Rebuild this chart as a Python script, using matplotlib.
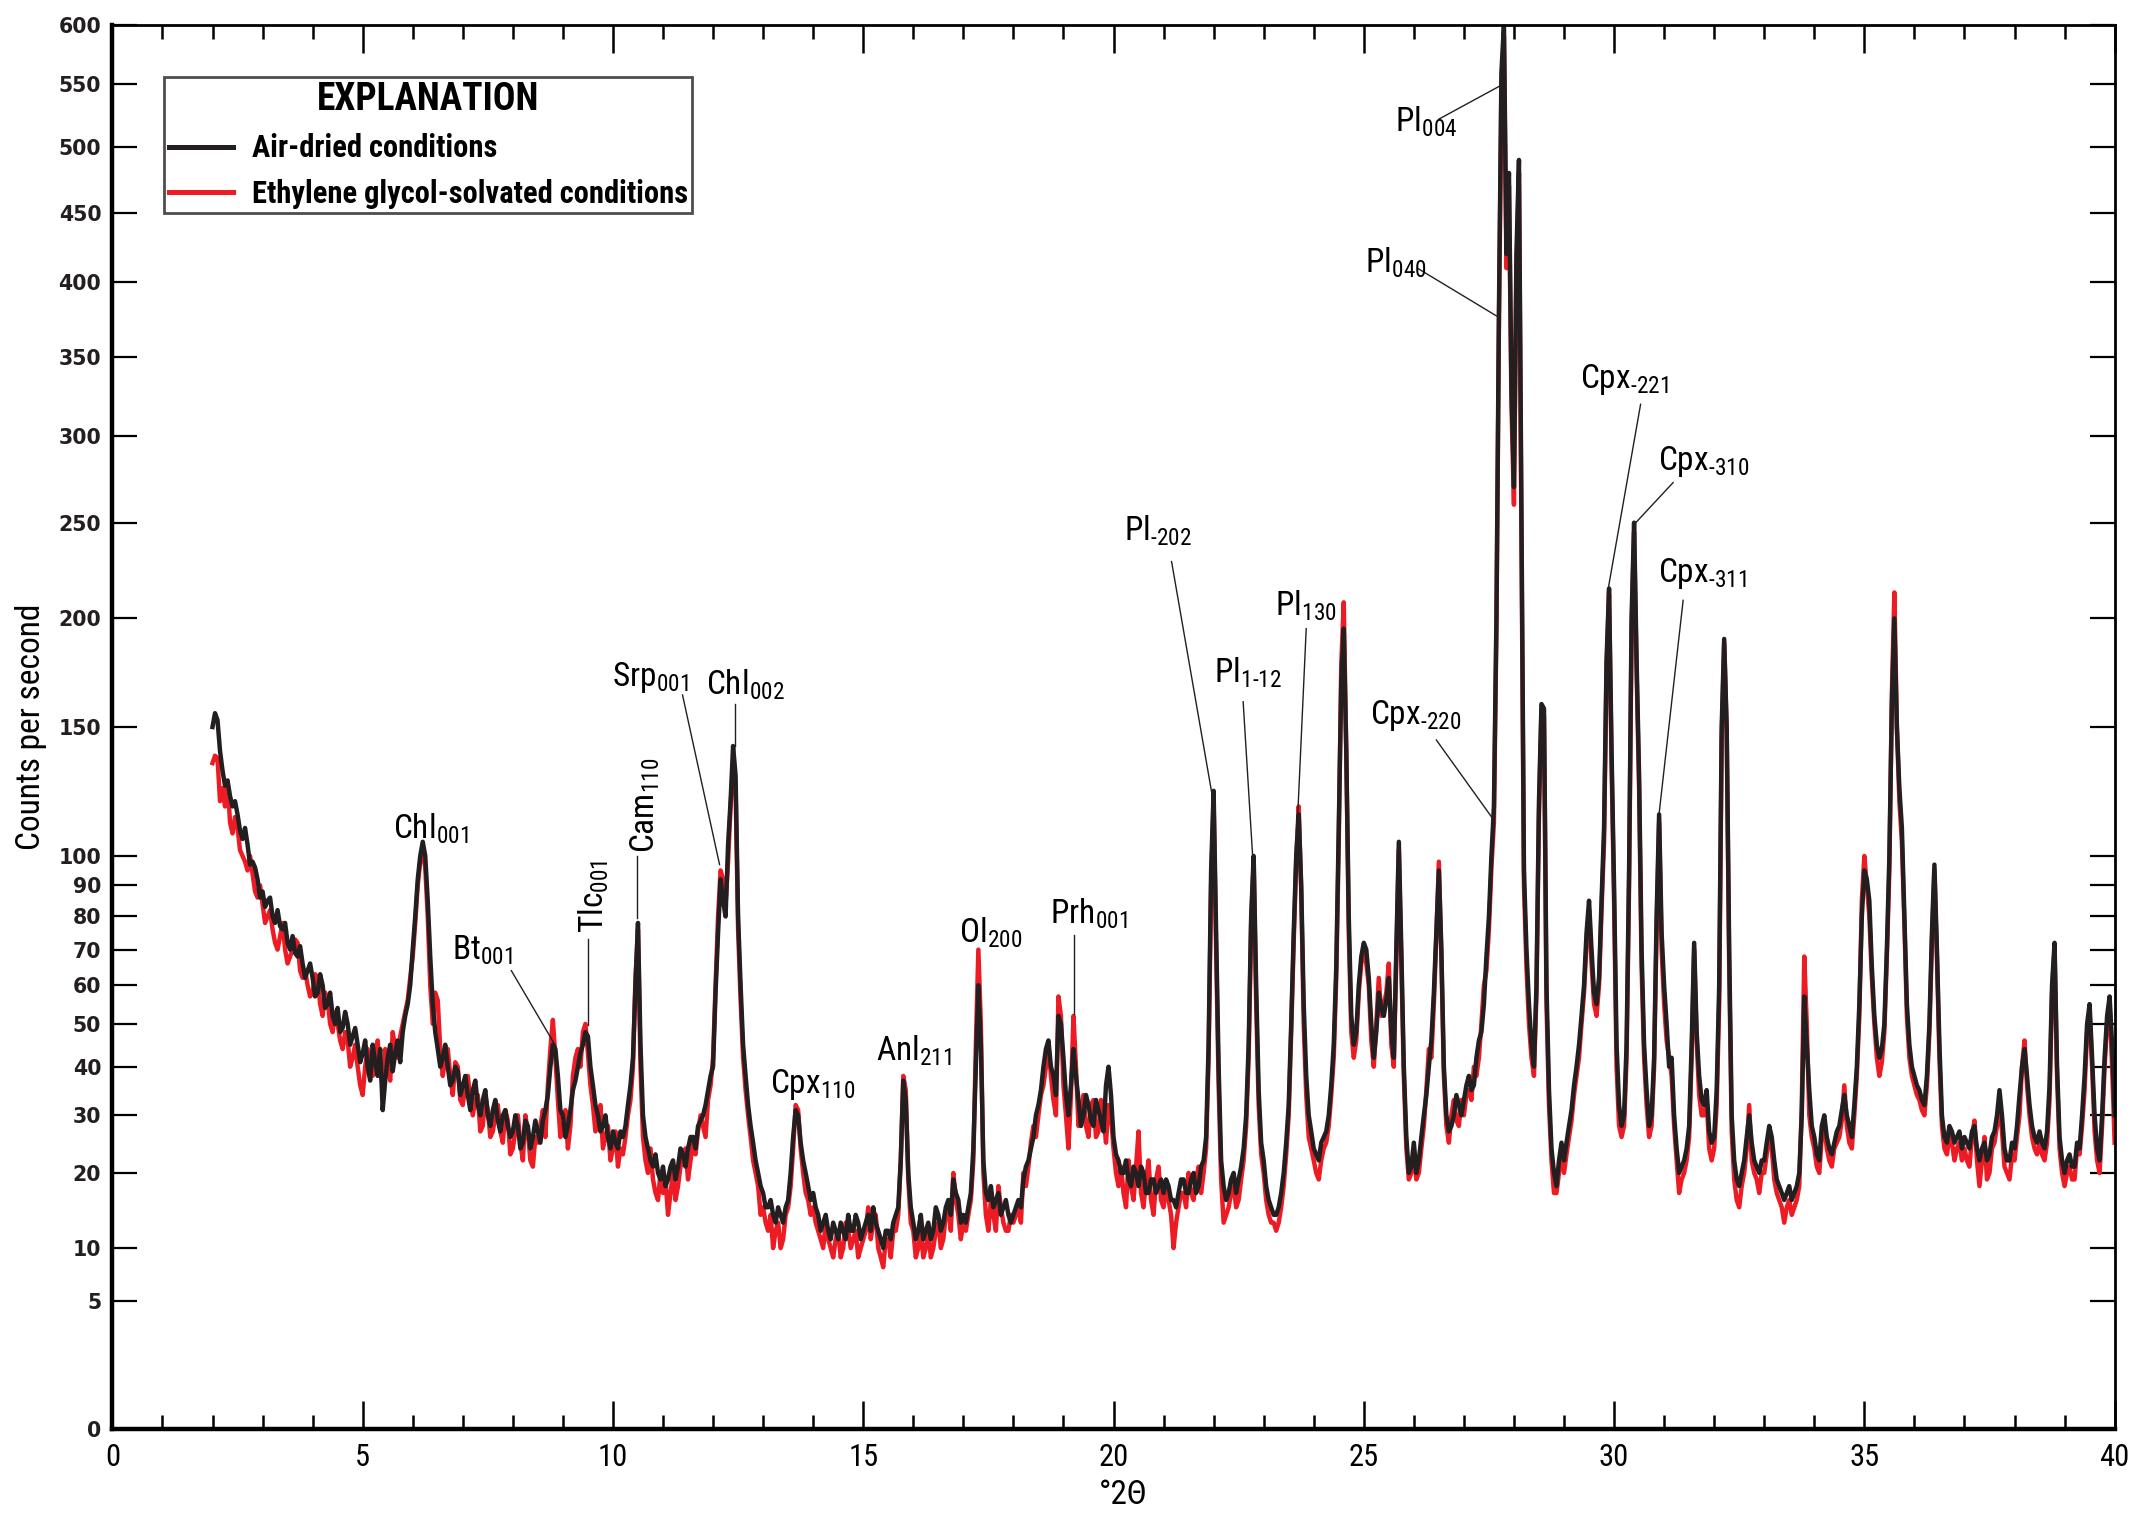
import matplotlib
matplotlib.use("Agg")
import matplotlib.pyplot as plt
from matplotlib import font_manager
import numpy as np

# degrees 2-theta: readings every 0.05 degree from 2.0 to 40.0
two_theta = np.round(np.arange(2.0, 40.0001, 0.05), 2)

# counts per second, air-dried (black), at 2.0, 2.1, ... 40.0
air_dried = [
    150, 153, 132, 128, 118, 115, 106, 104, 98, 92,
    88, 85, 80, 82, 76, 72, 74, 68, 66, 64,
    62, 58, 60, 55, 52, 54, 49, 50, 47, 45,
    43, 40, 45, 38, 31, 42, 39, 46, 48, 55,
    70, 92, 105, 85, 55, 44, 42, 40, 37, 39,
    36, 34, 35, 32, 33, 30, 31, 29, 30, 28,
    27, 28, 25, 28, 26, 27, 29, 34, 45, 38,
    30, 28, 35, 40, 45, 47, 36, 30, 28, 26,
    27, 24, 26, 32, 42, 78, 30, 24, 21, 20,
    21, 19, 22, 21, 23, 24, 26, 28, 30, 35,
    40, 75, 85, 104, 142, 80, 45, 32, 25, 20,
    17, 15, 14, 15, 13, 16, 26, 30, 22, 18,
    17, 14, 13, 12, 13, 11, 12, 14, 12, 13,
    12, 14, 15, 12, 10, 12, 13, 15, 37, 20,
    13, 12, 11, 13, 12, 14, 13, 16, 19, 16,
    14, 15, 24, 60, 22, 16, 15, 17, 15, 14,
    14, 16, 19, 22, 26, 32, 40, 46, 38, 52,
    42, 30, 44, 33, 30, 32, 28, 31, 27, 40,
    26, 22, 20, 19, 21, 18, 20, 17, 19, 18,
    17, 18, 16, 17, 19, 17, 20, 18, 22, 45,
    124, 40, 18, 17, 20, 19, 24, 45, 100, 35,
    22, 16, 14, 15, 20, 32, 75, 115, 55, 30,
    24, 22, 26, 30, 45, 110, 195, 80, 45, 60,
    72, 62, 42, 58, 52, 62, 42, 105, 40, 20,
    25, 22, 30, 40, 58, 95, 40, 27, 30, 32,
    33, 38, 36, 46, 55, 80, 118, 380, 600, 480,
    270, 490, 95, 55, 40, 120, 158, 35, 20, 22,
    22, 28, 36, 45, 60, 85, 58, 62, 110, 215,
    90, 32, 30, 95, 250, 130, 45, 28, 42, 115,
    60, 40, 30, 20, 22, 28, 72, 38, 32, 27,
    26, 60, 190, 70, 22, 18, 22, 30, 22, 20,
    22, 28, 22, 18, 16, 18, 17, 20, 57, 35,
    26, 22, 30, 24, 25, 28, 34, 28, 32, 55,
    95, 85, 52, 42, 50, 100, 200, 125, 80, 45,
    38, 35, 32, 50, 97, 45, 26, 28, 25, 27,
    26, 24, 28, 22, 25, 23, 27, 35, 24, 22,
    24, 34, 44, 32, 26, 27, 24, 36, 72, 26,
    20, 23, 21, 24, 38, 55, 30, 22, 42, 57,
    30,
]

# air-dried, in-between readings at 2.05, 2.15, ... 39.95
air_dried_mid = [
    156, 140, 126, 122, 120, 109, 110, 97, 96, 86,
    83, 86, 78, 77, 78, 70, 69, 71, 62, 66,
    57, 63, 54, 58, 50, 48, 53, 45, 49, 41,
    46, 37, 41, 44, 37, 45, 43, 41, 52, 60,
    80, 100, 100, 68, 48, 40, 45, 36, 40, 34,
    38, 31, 37, 30, 35, 28, 33, 27, 31, 26,
    30, 24, 29, 24, 29, 25, 31, 40, 44, 31,
    26, 31, 37, 43, 48, 40, 32, 27, 30, 24,
    25, 27, 28, 36, 60, 45, 26, 22, 23, 19,
    18, 21, 19, 24, 21, 26, 24, 29, 32, 38,
    58, 92, 80, 120, 130, 60, 38, 28, 22, 18,
    15, 16, 13, 14, 15, 20, 31, 25, 20, 16,
    15, 12, 14, 11, 12, 13, 11, 12, 14, 11,
    13, 12, 13, 11, 12, 11, 14, 22, 33, 15,
    11, 14, 12, 11, 15, 12, 15, 14, 17, 13,
    13, 17, 40, 45, 17, 18, 16, 14, 16, 13,
    15, 15, 21, 24, 30, 35, 44, 40, 34, 50,
    34, 36, 38, 28, 34, 29, 33, 29, 36, 34,
    23, 20, 22, 18, 20, 21, 17, 19, 17, 19,
    19, 16, 15, 19, 17, 19, 17, 21, 26, 95,
    75, 22, 16, 19, 17, 21, 30, 80, 60, 25,
    18, 15, 14, 17, 25, 50, 100, 90, 38, 27,
    23, 25, 27, 36, 65, 170, 140, 52, 48, 68,
    70, 50, 48, 54, 56, 48, 70, 70, 26, 21,
    20, 26, 34, 46, 75, 70, 30, 28, 34, 30,
    36, 35, 42, 48, 68, 100, 200, 560, 420, 330,
    420, 250, 70, 45, 60, 160, 60, 24, 18, 25,
    25, 31, 40, 52, 75, 70, 55, 85, 180, 140,
    45, 28, 45, 200, 180, 70, 35, 30, 80, 75,
    50, 42, 24, 21, 24, 45, 48, 33, 35, 25,
    35, 150, 150, 30, 19, 20, 26, 25, 21, 22,
    25, 26, 19, 17, 17, 16, 18, 30, 45, 28,
    23, 28, 26, 23, 27, 31, 30, 26, 40, 80,
    92, 65, 45, 44, 70, 160, 150, 110, 55, 40,
    36, 33, 38, 75, 70, 30, 25, 27, 26, 24,
    25, 27, 24, 24, 22, 26, 30, 30, 22, 25,
    28, 40, 38, 28, 25, 25, 27, 60, 40, 22,
    22, 21, 25, 30, 50, 42, 24, 30, 52, 45,
]

# counts per second, ethylene glycol-solvated (red), at 2.0, 2.1, ... 40.0
glycol = [
    135, 137, 125, 128, 108, 110, 100, 95, 94, 86,
    84, 80, 76, 70, 78, 66, 70, 72, 62, 60,
    58, 62, 52, 56, 48, 50, 44, 46, 42, 40,
    34, 44, 38, 46, 36, 40, 48, 42, 50, 56,
    68, 90, 102, 80, 50, 56, 38, 44, 34, 40,
    32, 38, 30, 34, 28, 31, 27, 32, 25, 29,
    24, 30, 22, 27, 21, 25, 31, 36, 51, 33,
    27, 24, 38, 44, 48, 43, 32, 28, 24, 28,
    24, 21, 23, 30, 40, 76, 26, 20, 19, 16,
    17, 14, 20, 18, 22, 19, 25, 27, 28, 33,
    42, 80, 92, 98, 135, 76, 42, 30, 22, 18,
    15, 12, 10, 13, 11, 15, 24, 31, 20, 16,
    15, 12, 10, 11, 9, 12, 10, 12, 11, 9,
    11, 15, 13, 10, 8, 11, 12, 14, 38, 19,
    12, 10, 9, 12, 10, 13, 11, 15, 20, 14,
    13, 14, 22, 70, 20, 12, 14, 18, 13, 12,
    13, 15, 20, 21, 28, 30, 36, 45, 33, 57,
    36, 24, 52, 28, 34, 26, 33, 27, 30, 32,
    24, 18, 17, 22, 16, 27, 15, 22, 14, 21,
    15, 16, 10, 15, 17, 20, 16, 21, 20, 42,
    120, 36, 13, 15, 18, 16, 22, 42, 98, 32,
    20, 14, 13, 13, 18, 30, 72, 118, 50, 26,
    22, 19, 24, 28, 42, 105, 208, 75, 42, 58,
    70, 60, 40, 62, 55, 66, 40, 102, 38, 19,
    24, 20, 28, 44, 55, 98, 38, 25, 33, 28,
    30, 35, 40, 42, 60, 76, 112, 370, 590, 470,
    260, 480, 90, 50, 38, 115, 155, 32, 17, 20,
    20, 26, 34, 42, 58, 82, 55, 60, 105, 212,
    85, 28, 28, 90, 245, 125, 42, 26, 40, 112,
    55, 42, 28, 17, 20, 26, 70, 34, 30, 24,
    24, 55, 188, 65, 19, 15, 20, 32, 20, 17,
    20, 26, 19, 16, 13, 16, 15, 18, 68, 30,
    24, 20, 28, 22, 24, 26, 36, 25, 30, 52,
    100, 80, 50, 38, 48, 95, 213, 120, 78, 42,
    36, 33, 30, 48, 95, 42, 24, 26, 22, 25,
    24, 21, 29, 18, 26, 20, 25, 32, 21, 19,
    22, 30, 46, 30, 24, 25, 22, 33, 70, 24,
    18, 21, 19, 23, 35, 53, 27, 20, 40, 55,
    25,
]

# glycol-solvated, in-between readings at 2.05, 2.15, ... 39.95
glycol_mid = [
    138, 120, 118, 112, 114, 102, 98, 100, 88, 90,
    78, 82, 72, 74, 70, 68, 73, 64, 64, 57,
    63, 55, 58, 50, 53, 46, 48, 40, 45, 36,
    40, 40, 43, 39, 44, 37, 44, 47, 53, 62,
    78, 98, 96, 60, 58, 44, 42, 38, 41, 33,
    36, 33, 33, 27, 34, 26, 30, 27, 31, 23,
    27, 25, 30, 22, 26, 28, 26, 44, 42, 26,
    31, 28, 42, 40, 50, 36, 27, 32, 26, 22,
    27, 24, 26, 33, 62, 40, 22, 24, 17, 20,
    19, 17, 16, 21, 24, 22, 23, 30, 26, 36,
    60, 95, 84, 118, 125, 56, 35, 26, 20, 14,
    13, 14, 12, 10, 14, 18, 32, 24, 17, 14,
    13, 11, 13, 10, 11, 9, 13, 10, 12, 10,
    12, 11, 14, 9, 11, 9, 12, 22, 35, 13,
    9, 12, 10, 9, 12, 10, 14, 12, 16, 11,
    12, 16, 45, 50, 14, 16, 12, 15, 12, 14,
    14, 13, 18, 25, 26, 34, 40, 38, 30, 52,
    30, 34, 40, 31, 28, 32, 26, 33, 25, 30,
    20, 21, 15, 18, 21, 17, 19, 16, 19, 16,
    18, 14, 13, 17, 15, 17, 19, 17, 24, 90,
    70, 19, 14, 17, 15, 19, 28, 78, 55, 23,
    16, 13, 12, 15, 23, 48, 98, 88, 34, 24,
    20, 22, 25, 34, 62, 178, 140, 48, 46, 66,
    66, 46, 50, 52, 58, 45, 68, 66, 24, 20,
    19, 24, 35, 42, 74, 68, 28, 30, 29, 33,
    34, 33, 38, 50, 64, 96, 195, 550, 410, 320,
    410, 240, 65, 42, 58, 158, 55, 22, 17, 23,
    23, 29, 38, 50, 72, 66, 52, 82, 176, 135,
    40, 26, 42, 195, 175, 65, 32, 28, 76, 70,
    46, 38, 22, 19, 22, 42, 46, 30, 33, 22,
    32, 145, 148, 27, 16, 18, 24, 22, 19, 20,
    23, 24, 17, 15, 15, 14, 16, 32, 50, 26,
    21, 26, 24, 21, 25, 29, 28, 24, 38, 85,
    90, 62, 42, 41, 68, 165, 150, 105, 52, 38,
    34, 31, 36, 72, 68, 28, 23, 25, 24, 22,
    22, 26, 22, 22, 19, 24, 28, 27, 20, 23,
    26, 40, 36, 26, 23, 23, 25, 58, 38, 20,
    20, 19, 24, 28, 48, 40, 22, 28, 50, 40,
]

y_ticks = [0, 5, 10, 20, 30, 40, 50, 60, 70, 80, 90, 100,
           150, 200, 250, 300, 350, 400, 450, 500, 550, 600]

# mineral labels: text, subscript, label spot, rotation, leader (from, to)
peak_labels = [
    ("Chl", "001", (5.61, 106), 0, None),
    ("Bt", "001", (6.79, 67), 0, ((7.97, 64), (8.84, 45))),
    ("Tlc", "001", (9.61, 75), 90, ((9.5, 73), (9.5, 49.7))),
    ("Cam", "110", (10.65, 101), 90, ((10.49, 100), (10.49, 79.4))),
    ("Srp", "001", (9.99, 168), 0, ((11.39, 164), (12.13, 97))),
    ("Chl", "002", (11.85, 164), 0, ((12.43, 160), (12.43, 142))),
    ("Cpx", "110", (13.14, 34.5), 0, None),
    ("Anl", "211", (15.25, 41.3), 0, None),
    ("Ol", "200", (16.92, 72), 0, None),
    ("Prh", "001", (18.73, 77.7), 0, ((19.22, 74.4), (19.22, 52.4))),
    ("Pl", "\u2010202", (20.21, 240), 0, ((21.16, 229), (21.96, 123.5))),
    ("Pl", "1\u201012", (22.01, 169.6), 0, ((22.59, 161), (22.78, 99.8))),
    ("Pl", "130", (23.22, 201.5), 0, ((23.85, 195), (23.68, 114.6))),
    ("Cpx", "\u2010220", (25.13, 151.4), 0, ((26.45, 144.5), (27.57, 113.6))),
    ("Pl", "040", (25.02, 406.7), 0, ((26.09, 409.6), (27.65, 377))),
    ("Pl", "004", (25.63, 512), 0, ((26.5, 522), (27.73, 549))),
    ("Cpx", "\u2010221", (29.32, 329.8), 0, ((30.53, 319.5), (29.87, 213))),
    ("Cpx", "\u2010310", (30.88, 279.8), 0, ((31.18, 272.6), (30.39, 248.7))),
    ("Cpx", "\u2010311", (30.88, 218.1), 0, ((31.38, 209), (30.88, 112))),
]

plt.rcParams["mathtext.default"] = "regular"


def narrow_font():
    """Pick a condensed sans family if one is installed"""
    entries = font_manager.fontManager.ttflist
    names = {f.name for f in entries}
    for cand in ("Liberation Sans Narrow", "Roboto Condensed",
                 "Open Sans Condensed", "Noto Sans Condensed",
                 "DejaVu Sans Condensed", "Arial Narrow",
                 "Nimbus Sans Narrow", "Noto Sans SemiCondensed"):
        if cand in names:
            return cand, "normal"
    for base in ("Noto Sans", "DejaVu Sans", "Open Sans", "Roboto"):
        for f in entries:
            if f.name == base and str(f.stretch) in (
                    "condensed", "semi-condensed", "extra-condensed"):
                return base, "condensed"
    return "Liberation Sans", "normal"


NARROW, STRETCH = narrow_font()


def interleave(main_vals, mid_vals):
    out = []
    for a, b in zip(main_vals, mid_vals):
        out += [a, b]
    out.append(main_vals[-1])
    return out


def main():
    fig = plt.figure(figsize=(10.745, 7.605), dpi=200)
    ax = fig.add_axes([0.0523, 0.0602, 0.9317, 0.9236])

    ax.set_yscale("function",
                  functions=(lambda v: np.sqrt(np.clip(v, 0, None)),
                             lambda v: np.square(v)))

    red, = ax.plot(two_theta, interleave(glycol, glycol_mid),
                   color="#ed1c24", lw=1.6,
                   label="Ethylene glycol-solvated conditions")
    black, = ax.plot(two_theta, interleave(air_dried, air_dried_mid),
                     color="#231f20", lw=1.6, label="Air-dried conditions")

    ax.set_xlim(0, 40)
    ax.set_ylim(0, 600)
    ax.set_xticks(range(0, 41, 5))
    ax.set_xticks(range(0, 41, 1), minor=True)
    ax.set_yticks(y_ticks)
    ax.set_yticklabels([str(t) for t in y_ticks])

    ax.tick_params(axis="x", which="major", direction="in", length=10,
                   width=0.9, top=True, pad=5)
    ax.tick_params(axis="x", which="minor", direction="in", length=5,
                   width=0.9, top=True)
    ax.tick_params(axis="y", which="major", direction="in", length=9,
                   width=0.8, right=True, pad=4)
    for lab in ax.get_xticklabels():
        lab.set_family(NARROW)
        lab.set_stretch(STRETCH)
        lab.set_fontsize(11)
    for lab in ax.get_yticklabels():
        lab.set_family("DejaVu Sans")
        lab.set_fontweight("bold")
        lab.set_fontsize(7.4)
        lab.set_color("#231f20")

    for side in ("left", "bottom"):
        ax.spines[side].set_linewidth(1.6)
    for side in ("top", "right"):
        ax.spines[side].set_linewidth(1.0)

    ax.set_ylabel("Counts per second", family=NARROW, stretch=STRETCH,
                  fontsize=12)
    ax.yaxis.set_label_coords(-0.0325, 0.5)
    ax.set_xlabel("°2Θ", family=NARROW, stretch=STRETCH, fontsize=12)
    ax.xaxis.set_label_coords(0.505, -0.035)

    for name, sub, pos, rot, leader in peak_labels:
        if rot:
            ax.text(pos[0], pos[1], name + "$_{" + sub + "}$", rotation=90,
                    ha="center", va="bottom", family=NARROW,
                    stretch=STRETCH, fontsize=12)
        else:
            ax.text(pos[0], pos[1], name + "$_{" + sub + "}$",
                    ha="left", va="baseline", family=NARROW,
                    stretch=STRETCH, fontsize=12)
        if leader:
            (x0, y0), (x1, y1) = leader
            ax.plot([x0, x1], [y0, y1], color="#231f20", lw=0.5)

    leg = ax.legend(handles=[black, red], loc="upper left",
                    bbox_to_anchor=(0.026, 0.963), borderaxespad=0,
                    title="EXPLANATION", fancybox=False, edgecolor="#231f20",
                    handlelength=2.1, handletextpad=0.6, borderpad=0.15,
                    labelspacing=0.5,
                    prop=dict(family=NARROW, stretch=STRETCH,
                              weight="bold", size=11),
                    title_fontproperties=dict(family=NARROW,
                                              stretch=STRETCH,
                                              weight="bold", size=13.5))
    leg.get_frame().set_linewidth(1.0)
    for line in leg.get_lines():
        line.set_linewidth(1.8)

    fig.savefig("out.png", dpi=200)
    return 0


if __name__ == "__main__":
    main()
